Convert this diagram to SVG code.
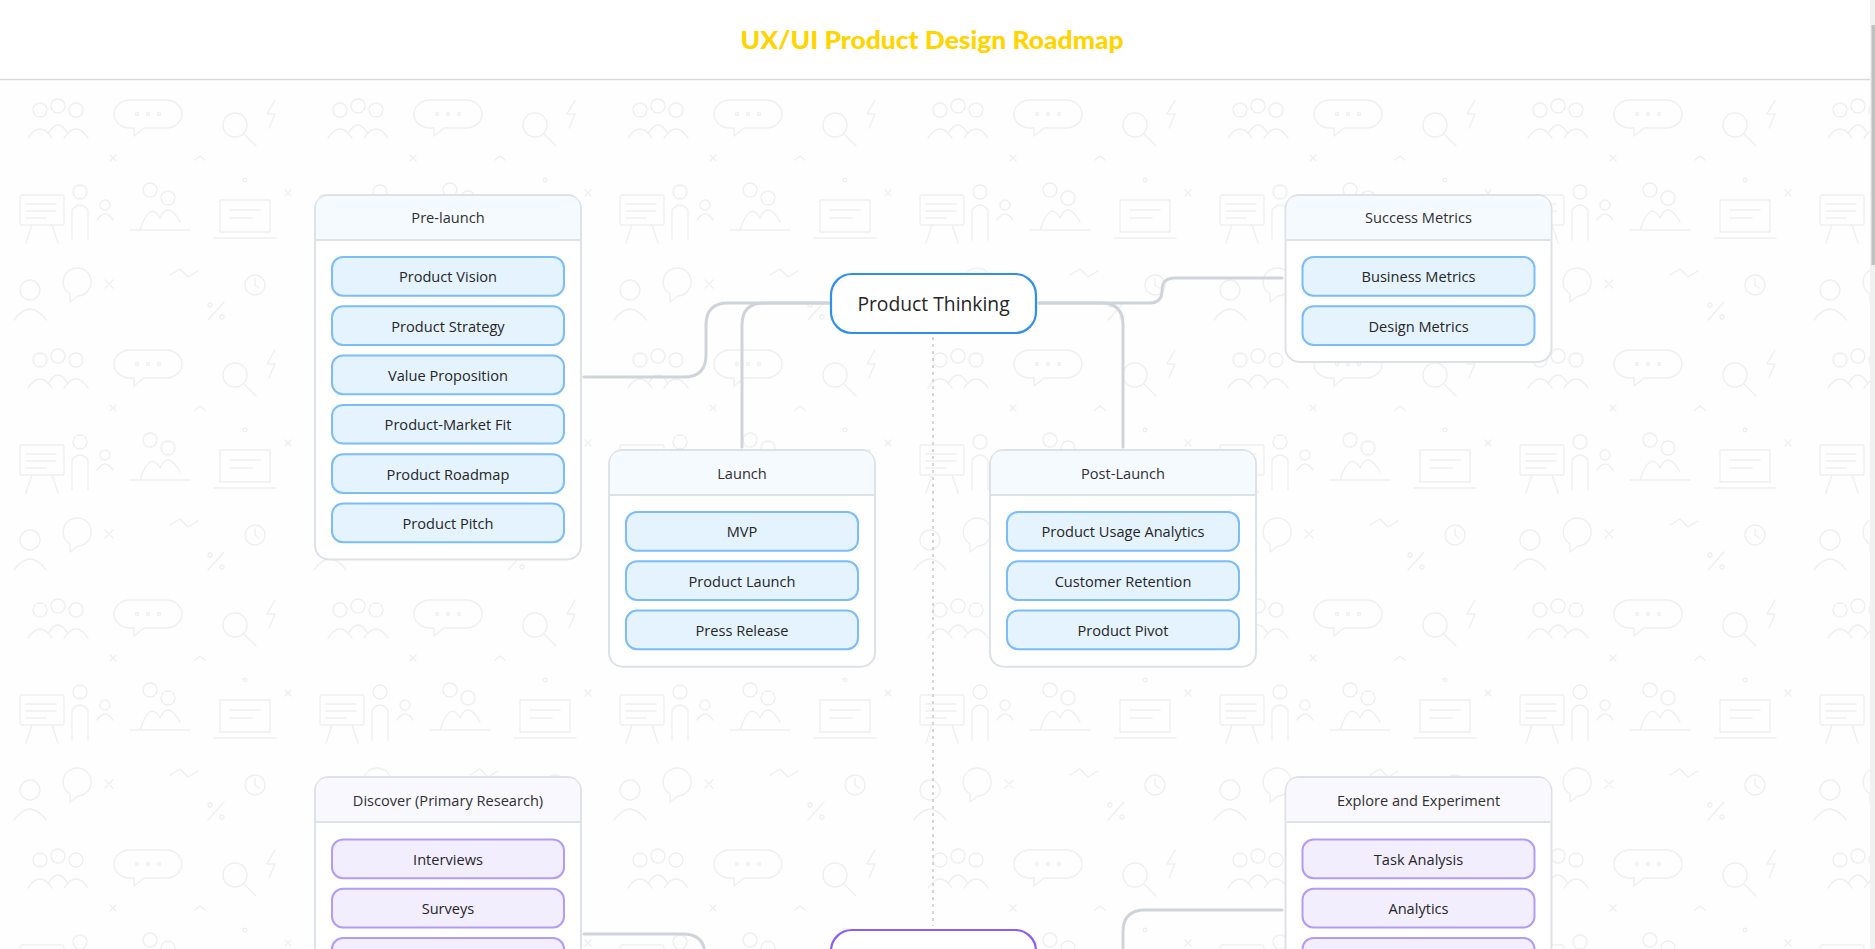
<svg xmlns="http://www.w3.org/2000/svg" width="1875" height="949" viewBox="0 0 1875 949">
<style>
.t{font-family:"Open Sans","Noto Sans","DejaVu Sans",sans-serif;fill:#262626;text-anchor:middle;dominant-baseline:central}
.lbl{font-size:14.6px}
.hd{font-size:14.6px;fill:#303030}
.box{fill:#fff;stroke:#dde2e8;stroke-width:2}
.hb{fill:#f5faff}
.hp{fill:#faf8ff}
.sep{stroke:#dde2e8;stroke-width:2}
.ib{fill:#e5f3fe;stroke:#7abdf7;stroke-width:2}
.ip{fill:#f2eefe;stroke:#b39cf6;stroke-width:2}
.con{fill:none;stroke:#cfd4da;stroke-width:3;stroke-linecap:round}
.doo{fill:none;stroke:#efefef;stroke-width:1.4;stroke-linecap:round;stroke-linejoin:round}
</style>
<defs>
<pattern id="bg" x="0" y="80" width="300" height="250" patternUnits="userSpaceOnUse">
<g class="doo">
<circle cx="40" cy="30" r="7"/><circle cx="58" cy="26" r="7"/><circle cx="76" cy="30" r="7"/>
<path d="M28 58 Q40 40 52 58 M48 54 Q58 36 68 54 M64 58 Q76 40 88 58"/>
<path d="M130 20 h36 a16 14 0 0 1 0 28 h-22 l-10 8 v-8 h-4 a16 14 0 0 1 0-28z"/>
<circle cx="137" cy="34" r="1.5"/><circle cx="148" cy="34" r="1.5"/><circle cx="159" cy="34" r="1.5"/>
<circle cx="235" cy="45" r="12"/><path d="M244 54 l12 12"/>
<path d="M275 20 l-8 14 h8 l-6 14"/>
<rect x="20" y="115" width="44" height="30" rx="2"/><path d="M26 124 h30 M26 131 h30 M26 138 h20 M32 145 l-6 18 M52 145 l6 18"/><circle cx="80" cy="112" r="7"/><path d="M72 160 v-30 q8-10 16 0 v30"/>
<circle cx="150" cy="110" r="7"/><circle cx="168" cy="118" r="7"/><path d="M140 150 q10-30 20-12 q8-18 20 4 M130 150 h60"/>
<path d="M220 120 h50 v32 h-50z M214 158 h62 M230 130 h30 M230 138 h22"/>
<circle cx="245" cy="100" r="1.8"/>
<path d="M105 200 l8 8 M113 200 l-8 8"/>
<circle cx="30" cy="210" r="10"/><path d="M14 240 q16-22 32 0"/>
<path d="M170 195 l10 -6 l8 8 l10 -6"/>
<circle cx="210" cy="225" r="2"/><circle cx="222" cy="237" r="2"/><path d="M224 222 l-16 18"/>
<path d="M70 190 a14 14 0 1 1 8 26 l-8 6 v-8 a14 14 0 0 1 0-24z"/>
<circle cx="255" cy="205" r="10"/><path d="M255 199 v6 l4 3"/>
<path d="M110 75 l6 6 M116 75 l-6 6 M195 80 l5 -4 l5 4 M285 110 l6 6 M291 110 l-6 6"/>
<circle cx="105" cy="125" r="5"/><path d="M97 140 q8-12 16 0"/>
</g>
</pattern>
</defs>
<rect x="0" y="0" width="1875" height="949" fill="#fefefe"/>
<rect x="0" y="80" width="1870" height="869" fill="url(#bg)"/>
<g id="header">
<rect x="0" y="0" width="1870" height="79" fill="#fff"/>
<line x1="0" y1="79.5" x2="1870" y2="79.5" stroke="#d9d9d9" stroke-width="1.5"/>
<text x="932" y="49" font-family="Lato,'Liberation Sans',sans-serif" font-weight="900" font-size="25" fill="#ffd500" text-anchor="middle" textLength="383" lengthAdjust="spacingAndGlyphs">UX/UI Product Design Roadmap</text>
</g>
<g id="scrollbar">
<rect x="1870" y="0" width="5" height="949" fill="#f1f1f1"/>
<rect x="1871.5" y="25" width="3.5" height="240" fill="#c1c1c1"/>
</g>
<line x1="933" y1="337" x2="933" y2="926" stroke="#c9c9c9" stroke-width="1.5" stroke-dasharray="3 4"/>
<g id="connectors">
<path class="con" d="M584 377 H684 Q706 377 706 355 V325 Q706 303 728 303 H829"/>
<path class="con" d="M742 447 V325 Q742 303 764 303 H829"/>
<path class="con" d="M1039 303 H1101 Q1123 303 1123 325 V447"/>
<path class="con" d="M1039 303 H1149.5 Q1162 303 1162 290.5 Q1162 278 1174.5 278 H1282"/>
<path class="con" d="M584 934 H683 Q705 934 705 956 V970"/>
<path class="con" d="M1282 910 H1145 Q1123 910 1123 932 V970"/>
</g>
<g id="product-thinking">
<rect x="831" y="274" width="205" height="59" rx="21" fill="#fff" stroke="#2f8fea" stroke-width="2.2"/>
<text class="t" x="933.5" y="303.5" font-size="19.3" fill="#1f1f1f">Product Thinking</text>
</g>
<g id="pre-launch">
<rect class="box" x="315" y="195" width="266" height="364.5" rx="14"/>
<path class="hb" d="M316 240 V209 Q316 196 329 196 H567 Q580 196 580 209 V240z"/>
<line class="sep" x1="316" y1="240" x2="580" y2="240"/>
<text class="t hd" x="448" y="217">Pre-launch</text>
<rect class="ib" x="332" y="257" width="232" height="38.7" rx="11"/><text class="t lbl" x="448" y="276.4">Product Vision</text>
<rect class="ib" x="332" y="306.3" width="232" height="38.7" rx="11"/><text class="t lbl" x="448" y="325.7">Product Strategy</text>
<rect class="ib" x="332" y="355.6" width="232" height="38.7" rx="11"/><text class="t lbl" x="448" y="375">Value Proposition</text>
<rect class="ib" x="332" y="404.9" width="232" height="38.7" rx="11"/><text class="t lbl" x="448" y="424.3">Product-Market Fit</text>
<rect class="ib" x="332" y="454.2" width="232" height="38.7" rx="11"/><text class="t lbl" x="448" y="473.6">Product Roadmap</text>
<rect class="ib" x="332" y="503.5" width="232" height="38.7" rx="11"/><text class="t lbl" x="448" y="522.9">Product Pitch</text>
</g>
<g id="success-metrics">
<rect class="box" x="1285.5" y="195" width="266" height="167" rx="14"/>
<path class="hb" d="M1286.5 240 V209 Q1286.5 196 1299.5 196 H1537.5 Q1550.5 196 1550.5 209 V240z"/>
<line class="sep" x1="1286.5" y1="240" x2="1550.5" y2="240"/>
<text class="t hd" x="1418.5" y="217">Success Metrics</text>
<rect class="ib" x="1302.5" y="257" width="232" height="38.7" rx="11"/><text class="t lbl" x="1418.5" y="276.4">Business Metrics</text>
<rect class="ib" x="1302.5" y="306.3" width="232" height="38.7" rx="11"/><text class="t lbl" x="1418.5" y="325.7">Design Metrics</text>
</g>
<g id="launch">
<rect class="box" x="609" y="450" width="266" height="216.7" rx="14"/>
<path class="hb" d="M610 495 V464 Q610 451 623 451 H861 Q874 451 874 464 V495z"/>
<line class="sep" x1="610" y1="495" x2="874" y2="495"/>
<text class="t hd" x="742" y="472.5">Launch</text>
<rect class="ib" x="626" y="512" width="232" height="38.7" rx="11"/><text class="t lbl" x="742" y="531.4">MVP</text>
<rect class="ib" x="626" y="561.3" width="232" height="38.7" rx="11"/><text class="t lbl" x="742" y="580.7">Product Launch</text>
<rect class="ib" x="626" y="610.6" width="232" height="38.7" rx="11"/><text class="t lbl" x="742" y="630">Press Release</text>
</g>
<g id="post-launch">
<rect class="box" x="990" y="450" width="266" height="216.7" rx="14"/>
<path class="hb" d="M991 495 V464 Q991 451 1004 451 H1242 Q1255 451 1255 464 V495z"/>
<line class="sep" x1="991" y1="495" x2="1255" y2="495"/>
<text class="t hd" x="1123" y="472.5">Post-Launch</text>
<rect class="ib" x="1007" y="512" width="232" height="38.7" rx="11"/><text class="t lbl" x="1123" y="531.4">Product Usage Analytics</text>
<rect class="ib" x="1007" y="561.3" width="232" height="38.7" rx="11"/><text class="t lbl" x="1123" y="580.7">Customer Retention</text>
<rect class="ib" x="1007" y="610.6" width="232" height="38.7" rx="11"/><text class="t lbl" x="1123" y="630">Product Pivot</text>
</g>
<g id="discover">
<rect class="box" x="315" y="777" width="266" height="314" rx="14"/>
<path class="hp" d="M316 822 V791 Q316 778 329 778 H567 Q580 778 580 791 V822z"/>
<line class="sep" x1="316" y1="822" x2="580" y2="822"/>
<text class="t hd" x="448" y="799.5">Discover (Primary Research)</text>
<rect class="ip" x="332" y="839.5" width="232" height="38.7" rx="11"/><text class="t lbl" x="448" y="858.9">Interviews</text>
<rect class="ip" x="332" y="888.8" width="232" height="38.7" rx="11"/><text class="t lbl" x="448" y="908.2">Surveys</text>
<rect class="ip" x="332" y="938.1" width="232" height="38.7" rx="11"/>
</g>
<g id="user-research">
<rect x="831" y="930" width="205" height="59" rx="21" fill="#fff" stroke="#8b5cf6" stroke-width="2.2"/>
</g>
<g id="explore">
<rect class="box" x="1285.5" y="777" width="266" height="265" rx="14"/>
<path class="hp" d="M1286.5 822 V791 Q1286.5 778 1299.5 778 H1537.5 Q1550.5 778 1550.5 791 V822z"/>
<line class="sep" x1="1286.5" y1="822" x2="1550.5" y2="822"/>
<text class="t hd" x="1418.5" y="799.5">Explore and Experiment</text>
<rect class="ip" x="1302.5" y="839.5" width="232" height="38.7" rx="11"/><text class="t lbl" x="1418.5" y="858.9">Task Analysis</text>
<rect class="ip" x="1302.5" y="888.8" width="232" height="38.7" rx="11"/><text class="t lbl" x="1418.5" y="908.2">Analytics</text>
<rect class="ip" x="1302.5" y="938.1" width="232" height="38.7" rx="11"/>
</g>
</svg>
